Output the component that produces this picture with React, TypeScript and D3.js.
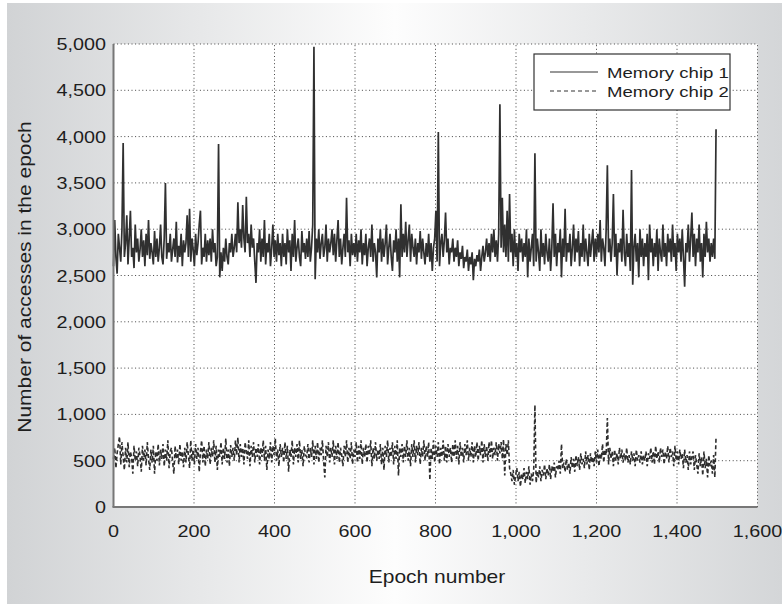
import React, { useEffect, useRef } from 'react';
import * as d3 from 'd3';

// values read every 3 epochs (0 .. 1497)
const EPOCH_STEP = 3;

const chip1 = [
  2600, 3100, 2700, 2520, 2950, 2800, 2650, 3000, 3930, 2700, 2850, 3150, 2620, 2900, 3200, 2700, 2800, 2580, 3050, 2750,
  2900, 2650, 2780, 3000, 2700, 2880, 2600, 2950, 2720, 3100, 2680, 2850, 2750, 2620, 2980, 2700, 2900, 2650, 2800, 3050,
  2700, 2620, 2900, 3500, 2680, 2850, 2750, 2950, 2650, 2780, 2900, 2700, 3080, 2640, 2820, 2700, 2950, 2600, 2880, 2750,
  2850, 3150, 2700, 3220, 2650, 2900, 2780, 2600, 2950, 2720, 2850, 3050, 3200, 2620, 2800, 2700, 2950, 2650, 2880, 2720,
  2900, 2650, 3000, 2750, 2850, 2600, 2700, 3920, 2480, 2750, 2550, 2800, 2650, 2900, 2700, 2620, 2850, 2750, 2950, 2700,
  2800, 2950, 2750, 3290, 2850, 3000, 2800, 3260, 2900, 2750, 3350, 2850, 2950, 2700, 3050, 2800, 2900, 2650, 2420, 2850,
  2750, 3000, 2650, 2900, 2700, 3100, 2620, 2850, 2750, 2950, 2600, 2800, 3050, 2700, 2880, 2650, 2950, 2720, 2850, 2600,
  2950, 2700, 2850, 2620, 3000, 2750, 2880, 2550, 2950, 2700, 3100, 2650, 2800, 2900, 2700, 2600, 2980, 2750, 2850, 2680,
  2900, 2700, 2980, 2650, 2800, 3050, 4970, 2460, 2900, 2750, 3000, 2680, 2850, 2950, 2700, 2800, 3050, 2650, 2900, 2750,
  2850, 3000, 2720, 2950, 2650, 2880, 3100, 2700, 2900, 2620, 2800, 2950, 2700, 3340, 2750, 2880, 2600, 2950, 2720, 2850,
  2700, 2950, 2650, 2880, 2750, 3000, 2620, 2850, 2720, 2950, 2600, 2800, 2900, 2700, 3050, 2650, 2850, 2750, 2480, 2900,
  2750, 3000, 2650, 2900, 2700, 2850, 3050, 2620, 2800, 2950, 2700, 2550, 2880, 2750, 3000, 2650, 2900, 2480, 3270, 2700,
  2950, 2750, 3080, 2700, 2880, 3050, 2650, 2950, 2800, 2700, 2900, 2620, 2850, 2750, 2980, 2680, 2900, 2750, 2620, 2850,
  2700, 2950, 2650, 2850, 2550, 2800, 2900, 3200, 2650, 4050, 2600, 2850, 2950, 2700, 2880, 3180, 2750, 2900, 2620, 2800,
  2750, 2900, 2650, 2800, 2700, 2880, 2600, 2750, 2680, 2820, 2580, 2700, 2650, 2780, 2550, 2700, 2620, 2750, 2450, 2680,
  2600, 2720, 2650, 2780, 2550, 2700, 2820, 2650, 2750, 2900, 2700, 2850, 2650, 2950, 2750, 3000, 2700, 2880, 2650, 2950,
  4350, 2800, 3340, 2750, 3050, 2700, 3200, 2650, 3380, 2750, 2950, 2600, 3000, 2700, 2850, 2550, 2950, 2750, 2900, 2650,
  2850, 2700, 3000, 2480, 2900, 2650, 2800, 2950, 2600, 3820, 2650, 2900, 2750, 2550, 3000, 2700, 2850, 2620, 2950, 2750,
  2650, 2900, 2550, 2800, 3280, 2700, 2950, 2600, 2850, 2750, 3000, 2480, 2900, 2700, 3220, 2650, 2850, 2750, 2950, 2600,
  2800, 3050, 2650, 2900, 2750, 2980, 2600, 2850, 2700, 3050, 2650, 2900, 2750, 2600, 2950, 2700, 2850, 3000, 2650, 2900,
  2700, 2950, 2750, 3100, 2650, 2900, 2800, 2600, 3000, 3690, 2750, 2900, 2650, 2850, 3380, 2700, 2950, 2500, 2850, 2750,
  2900, 2650, 3210, 2750, 2600, 2950, 2700, 2850, 2550, 3640, 2400, 2800, 2950, 2650, 2850, 2480, 3000, 2700, 2900, 2600,
  2850, 2700, 2950, 2450, 3050, 2750, 2900, 2600, 2850, 2700, 3000, 2550, 2900, 2750, 2650, 3050, 2700, 2850, 2600, 2950,
  2750, 2900, 2650, 3050, 2700, 2850, 2550, 2950, 2750, 2900, 2650, 3000, 2700, 2380, 2850, 2750, 3050, 2650, 2900, 3180,
  2700, 2950, 2600, 2900, 2750, 3050, 2650, 2850, 2480, 2950, 2700, 3080, 2750, 2900, 2650, 2850, 2700, 2900, 2680, 4080,
];

const chip2 = [
  520, 640, 420, 580, 680, 760, 460, 700, 540, 400, 640, 480, 700, 430, 600, 540, 360, 660, 500, 600,
  440, 640, 550, 380, 660, 500, 620, 450, 700, 520, 400, 620, 480, 660, 360, 600, 500, 680, 450, 620,
  520, 680, 440, 620, 500, 720, 420, 600, 640, 480, 360, 660, 520, 620, 460, 680, 500, 600, 430, 640,
  480, 700, 560, 420, 720, 500, 620, 460, 680, 520, 640, 380, 600, 720, 480, 660, 440, 620, 520, 700,
  460, 640, 540, 720, 480, 660, 400, 620, 540, 700, 460, 640, 520, 740, 480, 620, 440, 670, 540, 640,
  500, 720, 560, 750, 480, 680, 540, 640, 460, 700, 600, 520, 720, 440, 660, 540, 700, 480, 640, 540,
  680, 460, 640, 540, 720, 500, 660, 400, 620, 520, 700, 480, 660, 560, 740, 500, 620, 440, 680, 540,
  640, 480, 700, 520, 660, 380, 620, 540, 720, 460, 640, 540, 680, 480, 720, 520, 620, 440, 660, 560,
  540, 680, 480, 640, 540, 720, 460, 660, 520, 700, 480, 640, 560, 720, 500, 320, 660, 540, 700, 480,
  640, 540, 720, 460, 660, 520, 700, 480, 640, 560, 440, 660, 540, 720, 480, 640, 520, 700, 460, 620,
  540, 700, 480, 660, 520, 720, 460, 640, 540, 680, 480, 660, 560, 720, 440, 640, 520, 700, 500, 620,
  520, 680, 460, 640, 400, 660, 540, 720, 480, 640, 540, 700, 460, 660, 520, 720, 340, 640, 540, 680,
  480, 660, 540, 720, 500, 640, 440, 680, 540, 720, 480, 660, 560, 700, 460, 640, 540, 720, 500, 660,
  540, 700, 290, 640, 520, 720, 480, 660, 540, 700, 460, 640, 540, 720, 500, 660, 480, 680, 540, 640,
  480, 680, 540, 720, 520, 660, 460, 700, 540, 640, 480, 680, 560, 720, 500, 640, 540, 700, 480, 660,
  540, 700, 500, 660, 560, 720, 480, 680, 540, 660, 500, 700, 540, 720, 520, 640, 560, 700, 500, 680,
  580, 700, 520, 730, 340, 680, 560, 720, 420, 360, 280, 400, 240, 340, 420, 280, 380, 220, 360, 300,
  420, 260, 380, 300, 440, 240, 360, 280, 400, 1100, 260, 380, 320, 440, 280, 400, 340, 460, 300, 420,
  340, 460, 300, 440, 380, 480, 320, 440, 400, 500, 360, 680, 420, 480, 380, 520, 400, 480, 360, 540,
  420, 520, 380, 560, 440, 540, 400, 580, 460, 520, 420, 600, 460, 560, 400, 580, 480, 540, 440, 600,
  480, 620, 440, 580, 520, 680, 480, 620, 560, 960, 460, 640, 520, 600, 440, 620, 500, 580, 460, 640,
  520, 620, 480, 580, 500, 640, 480, 560, 460, 600, 500, 580, 440, 620, 500, 560, 480, 600, 460, 560,
  500, 600, 440, 580, 520, 640, 480, 600, 460, 660, 520, 600, 480, 640, 540, 620, 460, 600, 520, 660,
  480, 640, 540, 600, 440, 660, 500, 600, 460, 620, 520, 580, 420, 620, 480, 560, 400, 600, 460, 540,
  600, 400, 560, 460, 360, 580, 440, 540, 340, 600, 420, 520, 320, 560, 440, 500, 360, 560, 320, 760,
];

const xTicks = [0, 200, 400, 600, 800, 1000, 1200, 1400, 1600];
const yTicks = [0, 500, 1000, 1500, 2000, 2500, 3000, 3500, 4000, 4500, 5000];
const seriesNames = ['Memory chip 1', 'Memory chip 2'];

const W = 782;
const H = 609;
const FONT = 'Liberation Sans, Arial, sans-serif';
const SX = 1.2; // the original type is wide

export default function App() {
  const ref = useRef<SVGSVGElement>(null);

  useEffect(() => {
    const svg = d3.select(ref.current);
    svg.selectAll('*').remove();

    const defs = svg.append('defs');
    const grad = defs.append('linearGradient').attr('id', 'bg').attr('x1', 0).attr('x2', 1).attr('y1', 0).attr('y2', 0);
    grad.append('stop').attr('offset', '0%').attr('stop-color', '#d1d3d5');
    grad.append('stop').attr('offset', '50%').attr('stop-color', '#fdfdfd');
    grad.append('stop').attr('offset', '100%').attr('stop-color', '#d4d6d8');

    svg.append('rect').attr('width', W).attr('height', H).attr('fill', '#fff');
    svg.append('rect').attr('x', 7).attr('y', 3).attr('width', W - 7).attr('height', 601).attr('fill', 'url(#bg)');

    const x = d3.scaleLinear().domain([0, 1600]).range([113.5, 757.5]);
    const y = d3.scaleLinear().domain([0, 5000]).range([507, 44]);

    svg.append('rect')
      .attr('x', x(0)).attr('y', y(5000))
      .attr('width', x(1600) - x(0)).attr('height', y(0) - y(5000))
      .attr('fill', '#fff');

    // dotted grid
    const grid = svg.append('g').attr('stroke', '#444').attr('stroke-width', 1).attr('stroke-dasharray', '1,2.6');
    xTicks.slice(1).forEach(t => {
      grid.append('line').attr('x1', x(t)).attr('x2', x(t)).attr('y1', y(0)).attr('y2', y(5000));
    });
    yTicks.slice(1).forEach(t => {
      grid.append('line').attr('x1', x(0)).attr('x2', x(1600)).attr('y1', y(t)).attr('y2', y(t));
    });

    const line = d3.line<number>()
      .x((d, i) => x(i * EPOCH_STEP))
      .y(d => y(d));

    svg.append('path').datum(chip2)
      .attr('d', line)
      .attr('fill', 'none')
      .attr('stroke', '#2e2e2e')
      .attr('stroke-width', 1.6)
      .attr('stroke-dasharray', '4,2.5');

    svg.append('path').datum(chip1)
      .attr('d', line)
      .attr('fill', 'none')
      .attr('stroke', '#303030')
      .attr('stroke-width', 1.7);

    // axes lines
    svg.append('line').attr('x1', x(0)).attr('x2', x(0)).attr('y1', y(0)).attr('y2', y(5000))
      .attr('stroke', '#777').attr('stroke-width', 2);
    svg.append('line').attr('x1', x(0) - 1).attr('x2', x(1600)).attr('y1', y(0)).attr('y2', y(0))
      .attr('stroke', '#777').attr('stroke-width', 2);

    const fmt = d3.format(',');
    const label = (g: any, tx: number, ty: number, txt: string, anchor: string, size: number, rot = 0) => {
      g.append('text')
        .attr('transform', `translate(${tx},${ty}) rotate(${rot}) scale(${SX},1)`)
        .attr('text-anchor', anchor)
        .attr('font-family', FONT)
        .attr('font-size', size)
        .attr('fill', '#1e1e1e')
        .text(txt);
    };

    const labels = svg.append('g');
    xTicks.forEach(t => label(labels, x(t), 537, fmt(t), 'middle', 16.5));
    yTicks.forEach(t => label(labels, 106, y(t) + 6, fmt(t), 'end', 16.5));
    label(labels, 437, 583, 'Epoch number', 'middle', 17.5);
    label(labels, 31, 277, 'Number of accesses in the epoch', 'middle', 17.5, -90);

    // legend
    const lg = svg.append('g');
    lg.append('rect').attr('x', 534).attr('y', 54).attr('width', 196).attr('height', 56)
      .attr('fill', '#fff').attr('stroke', '#333').attr('stroke-width', 1.2);
    seriesNames.forEach((name, i) => {
      const ly = 72 + i * 19;
      lg.append('line').attr('x1', 550).attr('x2', 598).attr('y1', ly).attr('y2', ly)
        .attr('stroke', '#333').attr('stroke-width', 1.2)
        .attr('stroke-dasharray', i === 1 ? '4,3' : null);
      label(lg, 607, ly + 6, name, 'start', 15.5);
    });
  }, []);

  return (
    <svg ref={ref} width={W} height={H} style={{ position: 'absolute', left: 0, top: 0 }} />
  );
}
